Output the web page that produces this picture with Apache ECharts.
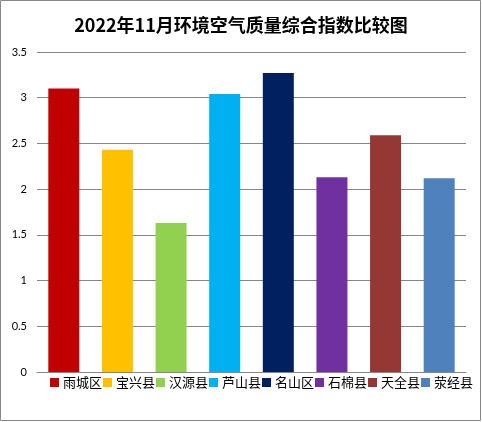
<!DOCTYPE html>
<html>
<head>
<meta charset="utf-8">
<script src="https://cdn.jsdelivr.net/npm/echarts@6/dist/echarts.min.js"></script>
<style>
  html, body { margin: 0; padding: 0; background: #fff; }
  #chart { width: 482px; height: 422px; }
</style>
</head>
<body>
<div id="chart"></div>
<script>
// 区县名称与综合指数
const districts = ['雨城区', '宝兴县', '汉源县', '芦山县', '名山区', '石棉县', '天全县', '荥经县'];
const indexValues = [3.10, 2.43, 1.63, 3.04, 3.27, 2.13, 2.59, 2.12];
const barColors = ['#C00000', '#FFC000', '#92D050', '#00B0F0', '#002060', '#7030A0', '#953735', '#4F81BD'];
const yTicks = [0, 0.5, 1, 1.5, 2, 2.5, 3, 3.5];

const chart = echarts.init(document.getElementById('chart'));

// 每个区县一个系列，堆叠后居中，便于图例显示
const series = districts.map((name, i) => ({
  name,
  type: 'bar',
  stack: 'all',
  barWidth: 31,
  itemStyle: { color: barColors[i] },
  data: districts.map((_, j) => (j === i ? indexValues[i] : '-'))
}));

chart.setOption({
  animation: false,
  title: {
    text: '2022年11月环境空气质量综合指数比较图',
    left: 'center',
    top: 11,
    textStyle: {
      fontFamily: 'Noto Sans CJK SC',
      fontSize: 18,
      fontWeight: 'bold',
      color: '#000'
    }
  },
  legend: {
    data: districts,
    left: 50,
    top: 376,
    width: 440,
    padding: 0,
    itemWidth: 9,
    itemHeight: 9,
    itemGap: 1,
    icon: 'rect',
    textStyle: { fontFamily: 'Noto Sans CJK SC', fontSize: 13, color: '#000', padding: [0, 0, 0, -1] }
  },
  grid: { left: 37, right: 16, top: 52, bottom: 50 },
  xAxis: {
    type: 'category',
    data: districts,
    axisLine: { lineStyle: { color: '#868686', width: 1 } },
    axisTick: { show: false },
    axisLabel: { show: false }
  },
  yAxis: {
    type: 'value',
    min: yTicks[0],
    max: yTicks[yTicks.length - 1],
    interval: 0.5,
    axisLine: { show: false },
    axisTick: { show: false },
    axisLabel: { color: '#000', fontFamily: 'Lato', fontSize: 11, margin: 10 },
    splitLine: { lineStyle: { color: '#868686', width: 1 } }
  },
  graphic: [{
    type: 'rect',
    shape: { x: 0.5, y: 0.5, width: 480, height: 420 },
    style: { fill: 'none', stroke: '#888', lineWidth: 1 },
    silent: true
  }],
  series
});
</script>
</body>
</html>
